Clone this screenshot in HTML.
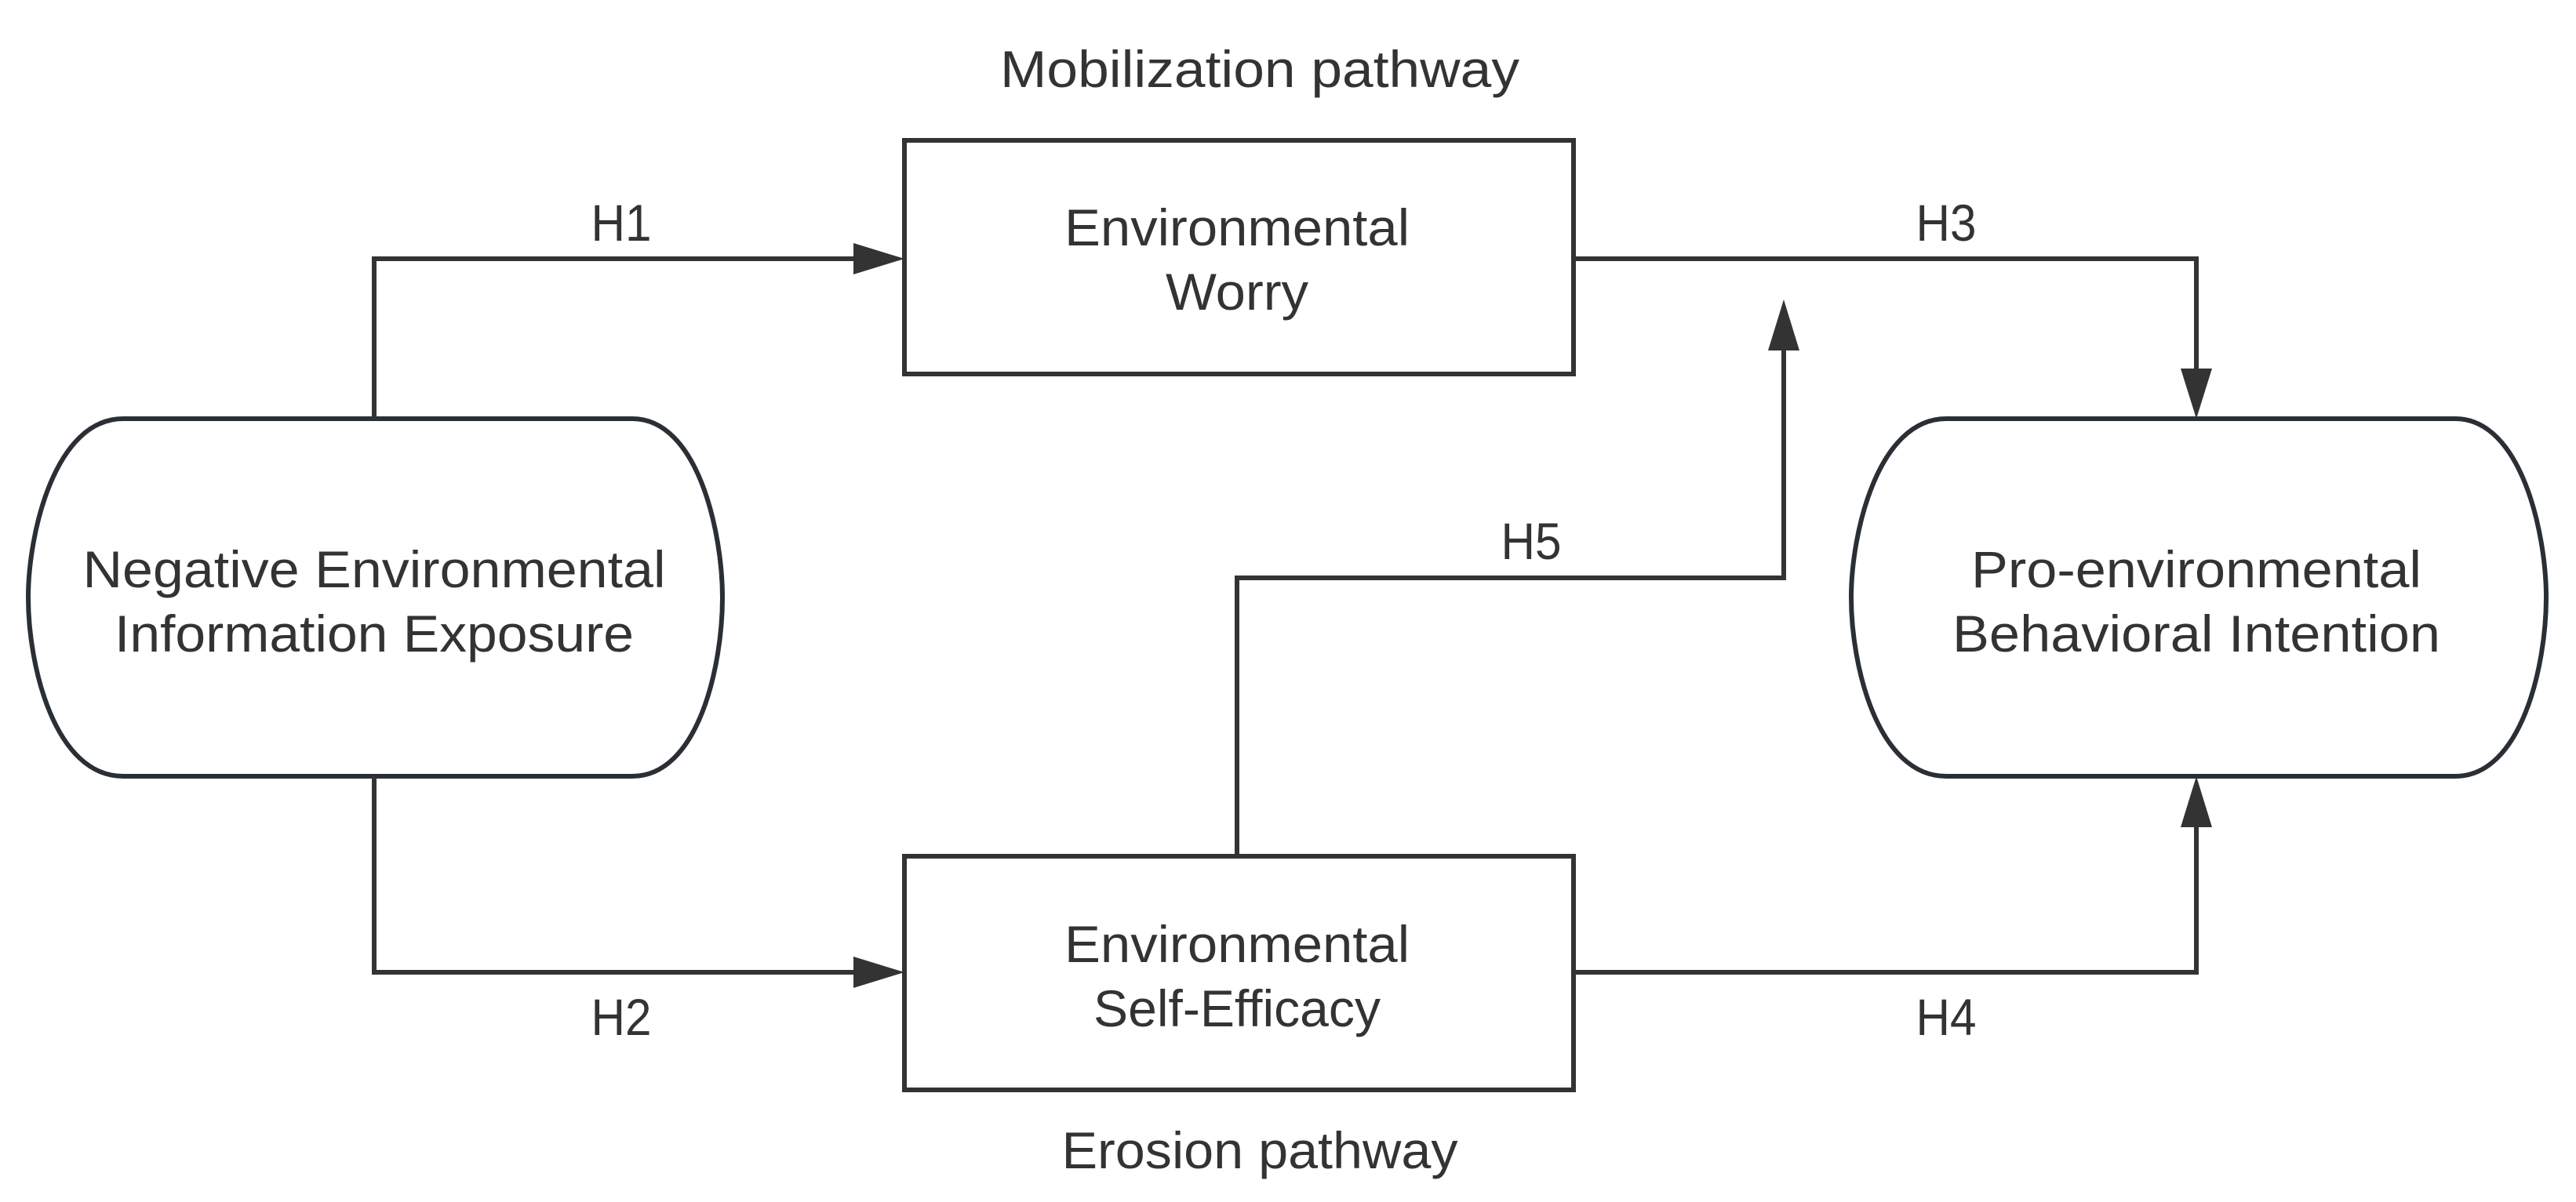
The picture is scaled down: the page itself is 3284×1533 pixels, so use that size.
<!DOCTYPE html>
<html><head><meta charset="utf-8"><style>
html,body{margin:0;padding:0;background:#fff;}
svg{display:block;}
text{font-family:"Liberation Sans",sans-serif;fill:#333;font-size:66px;text-anchor:middle;}
</style></head><body>
<svg width="3284" height="1533" viewBox="0 0 3284 1533" xmlns="http://www.w3.org/2000/svg">
<g fill="none" stroke="#333" stroke-width="6">
<path d="M157,534 H806 C890,534 921,680 921,762 C921,850 890,990 806,990 H157 C70,990 36,850 36,762 C36,680 70,534 157,534 Z" stroke="#2a2f35"/>
<path d="M2481,534 H3130 C3214,534 3246,680 3246,762 C3246,850 3214,990 3130,990 H2481 C2394,990 2360,850 2360,762 C2360,680 2394,534 2481,534 Z" stroke="#2a2f35"/>
<rect x="1153" y="179" width="853" height="298"/>
<rect x="1153" y="1092" width="853" height="298"/>
<polyline points="477,534 477,330 1090,330"/>
<polyline points="477,990 477,1240 1090,1240"/>
<polyline points="2006,330 2800,330 2800,470"/>
<polyline points="2006,1240 2800,1240 2800,1055"/>
<polyline points="1577,1092 1577,737 2274,737 2274,445"/>
</g>
<g fill="#333">
<polygon points="1153,330 1088,310 1088,350"/>
<polygon points="1153,1240 1088,1220 1088,1260"/>
<polygon points="2800,534 2780,470 2820,470"/>
<polygon points="2800,990 2780,1055 2820,1055"/>
<polygon points="2274,382 2254,447 2294,447"/>
</g>
<text x="1606" y="111" textLength="662" lengthAdjust="spacingAndGlyphs">Mobilization pathway</text>
<text x="1606" y="1490" textLength="505" lengthAdjust="spacingAndGlyphs">Erosion pathway</text>
<text x="792" y="307" textLength="77" lengthAdjust="spacingAndGlyphs">H1</text>
<text x="2481" y="307" textLength="77" lengthAdjust="spacingAndGlyphs">H3</text>
<text x="792" y="1320" textLength="77" lengthAdjust="spacingAndGlyphs">H2</text>
<text x="2481" y="1320" textLength="77" lengthAdjust="spacingAndGlyphs">H4</text>
<text x="1952" y="713" textLength="77" lengthAdjust="spacingAndGlyphs">H5</text>
<text x="1577" y="313" textLength="440" lengthAdjust="spacingAndGlyphs">Environmental</text>
<text x="1577" y="395" textLength="182" lengthAdjust="spacingAndGlyphs">Worry</text>
<text x="1577" y="1227" textLength="440" lengthAdjust="spacingAndGlyphs">Environmental</text>
<text x="1577" y="1309" textLength="366" lengthAdjust="spacingAndGlyphs">Self-Efficacy</text>
<text x="477" y="749" textLength="743" lengthAdjust="spacingAndGlyphs">Negative Environmental</text>
<text x="477" y="831" textLength="662" lengthAdjust="spacingAndGlyphs">Information Exposure</text>
<text x="2800" y="749" textLength="574" lengthAdjust="spacingAndGlyphs">Pro-environmental</text>
<text x="2800" y="831" textLength="622" lengthAdjust="spacingAndGlyphs">Behavioral Intention</text>
</svg>
</body></html>
